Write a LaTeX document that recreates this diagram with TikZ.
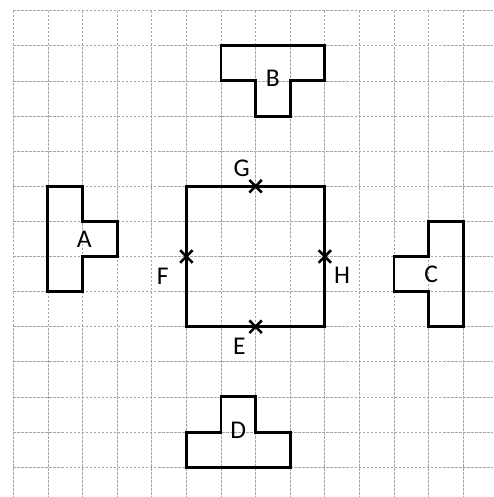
\documentclass[tikz,border=0pt]{standalone}
\usepackage{fontspec}
\setmainfont{Carlito}
\usepackage{tikz}
\usetikzlibrary{calc}

\tikzset{
  gridline/.style={gray!70, line width=0.6pt, dash pattern=on 2.2pt off 1.1pt},
  piece/.style={black, line width=2.4pt, line join=miter},
  lbl/.style={anchor=center, inner sep=0pt, font=\fontsize{21}{25}\selectfont},
  cross/.style={black, line width=2.1pt}
}

\begin{document}
\begin{tikzpicture}[x=1cm, y=1.0145cm]
						\useasboundingbox (-0.385,0.305) rectangle (13.865,-13.85);
						% grid
						\foreach \k in {0,...,13} {
							\draw [gridline] (\k,0) -- (\k,-13.85);
							\draw [gridline] (0,-\k) -- (13.865,-\k);
						}
						% square
						\draw [piece] (5,-5) rectangle (9,-9);
						% pieces
						\draw [piece] (1,-5) -- (2,-5) -- (2,-6) -- (3,-6) -- (3,-7) -- (2,-7) -- (2,-8) -- (1,-8) -- cycle;
						\draw [piece] (6,-1) -- (9,-1) -- (9,-2) -- (8,-2) -- (8,-3) -- (7,-3) -- (7,-2) -- (6,-2) -- cycle;
						\draw [piece] (12,-6) -- (13,-6) -- (13,-9) -- (12,-9) -- (12,-8) -- (11,-8) -- (11,-7) -- (12,-7) -- cycle;
						\draw [piece] (6,-11) -- (7,-11) -- (7,-12) -- (8,-12) -- (8,-13) -- (5,-13) -- (5,-12) -- (6,-12) -- cycle;
						% marked points
						\coordinate (ptG) at (7,-5);
						\coordinate (ptF) at (5,-7);
						\coordinate (ptH) at (9,-7);
						\coordinate (ptE) at (7,-9);
						\foreach \p in {ptG,ptF,ptH,ptE} {
							\draw [cross] ($(\p)+(-0.18,0.18)$) -- ($(\p)+(0.18,-0.18)$);
							\draw [cross] ($(\p)+(-0.18,-0.18)$) -- ($(\p)+(0.18,0.18)$);
						}
						% labels
						\node (labA) at (2.05,-6.5) [lbl] {A};
						\node (labB) at (7.5,-1.92) [lbl] {B};
						\node (labC) at (12.07,-7.52) [lbl] {C};
						\node (labD) at (6.5,-11.95) [lbl] {D};
						\node (labG) at (6.6,-4.5) [lbl] {G};
						\node (labF) at (4.32,-7.57) [lbl] {F};
						\node (labH) at (9.5,-7.55) [lbl] {H};
						\node (labE) at (6.53,-9.56) [lbl] {E};
					\end{tikzpicture}
\end{document}
